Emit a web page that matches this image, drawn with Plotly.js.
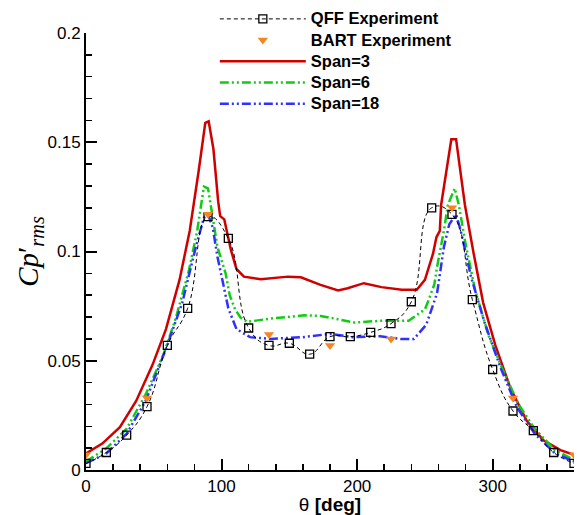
<!DOCTYPE html>
<html><head><meta charset="utf-8">
<script src="https://cdn.plot.ly/plotly-3.0.1.min.js"></script>
<style>html,body{margin:0;padding:0;background:#fff}</style>
</head><body>
<div id="chart" style="width:577px;height:515px"></div>
<script>
// QFF experiment (open squares, dashed)
const qffTheta = [0,15,30,45,60,75,90,105,120,135,150,165,180,195,210,225,240,255,270,285,300,315,330,345,360];
const qffCp = [0.003,0.008,0.016,0.029,0.057,0.074,0.116,0.106,0.065,0.057,0.058,0.053,0.061,0.061,0.063,0.067,0.077,0.120,0.117,0.078,0.046,0.027,0.018,0.008,0.003];
// BART experiment (triangles)
const bartTheta = [0,45,90,135,180,225,270,315,360];
const bartCp = [0.007,0.033,0.117,0.062,0.057,0.060,0.120,0.033,0.007];
// Span=3
const span3Theta = [0,12,25,37,49,59,69,76.5,83,88,90.5,94,97.5,99,102,104,107,111,116.5,129,149,158.5,173,186,193,205,218,233,244,250,256,258.5,261,262,266,269.5,273,276,279.5,286,293,302,313,325,337.5,350,360];
const span3Cp = [0.0076,0.0121,0.0196,0.0316,0.048,0.0645,0.087,0.1094,0.1364,0.1589,0.1596,0.1469,0.1229,0.1162,0.1147,0.1094,0.1005,0.092,0.0885,0.0873,0.0885,0.0882,0.0847,0.0822,0.0832,0.0855,0.0837,0.0825,0.0825,0.087,0.099,0.1065,0.1094,0.1214,0.1364,0.1514,0.1514,0.1364,0.1214,0.099,0.0765,0.057,0.0376,0.0226,0.0136,0.0091,0.0069];
// Span=6
const span6Theta = [0,15,30,44,57,66,76,82,87,90,93.5,97,103,106,110,114,119,136,161,173,186,198,218,238,250,252,257,259,264,267,272,275,280,287,297,307,319,331,346,360];
const span6Cp = [0.0039,0.0099,0.0189,0.0346,0.0526,0.069,0.0915,0.1094,0.1297,0.1289,0.1155,0.102,0.090,0.080,0.0735,0.0698,0.0678,0.0693,0.0708,0.0705,0.069,0.0675,0.0683,0.0683,0.0735,0.0765,0.085,0.093,0.1094,0.1214,0.1289,0.1214,0.1035,0.0825,0.0615,0.0465,0.0301,0.0189,0.0091,0.0046];
// Span=18
const span18Theta = [0,15,30,44,59,71,81,87,90,93.5,97,102,105,111,121,136,160,180,197,217,232,242,251,259,264,268,273,276.5,284,294,306,318,331,346,360];
const span18Cp = [0.0031,0.0076,0.0166,0.0316,0.0555,0.0765,0.102,0.1155,0.117,0.111,0.0975,0.082,0.074,0.0645,0.0608,0.060,0.0608,0.0623,0.0608,0.0612,0.060,0.060,0.0665,0.081,0.102,0.1125,0.117,0.1094,0.0885,0.0675,0.0465,0.0286,0.0166,0.0076,0.0039];
// Legend names
const seriesNames = ['QFF Experiment', 'BART Experiment', 'Span=3', 'Span=6', 'Span=18'];
// Tick labels
const xTickVals = [0,100,200,300];
const xTickText = ['0','100','200','300'];
const yTickVals = [0,0.05,0.1,0.15,0.2];
const yTickText = ['0','0.05','0.1','0.15','0.2'];

const nm = s => '<span style="font-size:16.5px">' + s + '</span>';

const traces = [
  {x: span3Theta, y: span3Cp, name: nm(seriesNames[2]), mode: 'lines', legendrank: 3,
   line: {color: '#d00000', width: 2.5}},
  {x: span6Theta, y: span6Cp, name: nm(seriesNames[3]), mode: 'lines', legendrank: 4,
   line: {color: '#11cc11', width: 2.5, dash: '9px,3px,2px,3px,2px,3px'}},
  {x: span18Theta, y: span18Cp, name: nm(seriesNames[4]), mode: 'lines', legendrank: 5,
   line: {color: '#3030ff', width: 2.5, dash: '9px,3px,2px,3px,2px,3px'}},
  {x: qffTheta, y: qffCp, name: nm(seriesNames[0]), mode: 'lines+markers', legendrank: 1,
   line: {color: '#000', width: 1, dash: '4px,3px', shape: 'spline', smoothing: 1.3},
   marker: {symbol: 'square-open', size: 8, color: '#000', line: {width: 1.3, color: '#000'}}},
  {x: bartTheta, y: bartCp, name: nm(seriesNames[1]), mode: 'markers', legendrank: 2,
   marker: {symbol: 'triangle-down', size: 9, color: '#f7851e'}}
];

const font = 'Liberation Sans, Arial, Helvetica, sans-serif';
const layout = {
  width: 577, height: 515,
  margin: {l: 86, r: 3, t: 25, b: 45},
  paper_bgcolor: '#fff', plot_bgcolor: '#fff',
  font: {family: font, size: 17, color: '#000'},
  showlegend: true,
  legend: {x: 0.264, y: 1.068, xanchor: 'left', yanchor: 'top', bgcolor: 'rgba(0,0,0,0)',
           font: {family: font, size: 14, color: '#000', weight: 'bold'}, itemwidth: 86, tracegroupgap: 0},
  xaxis: {range: [0, 360], showgrid: false, zeroline: false, showline: true, linecolor: '#000', linewidth: 2,
          mirror: false, ticks: 'inside', ticklen: 11, tickwidth: 2, tickcolor: '#000',
          tickmode: 'array', tickvals: xTickVals, ticktext: xTickText,
          minor: {dtick: 20, tick0: 0, ticks: 'inside', ticklen: 6, tickwidth: 1.5, tickcolor: '#000', showgrid: false},
          tickfont: {family: font, size: 17}, automargin: false,
          title: {text: 'θ <b>[deg]</b>', font: {family: font, size: 19}, standoff: 0}},
  yaxis: {range: [0, 0.2], showgrid: false, zeroline: false, showline: true, linecolor: '#000', linewidth: 2,
          mirror: false, ticks: 'inside', ticklen: 11, tickwidth: 2, tickcolor: '#000',
          tickmode: 'array', tickvals: yTickVals, ticktext: yTickText,
          minor: {dtick: 0.01, tick0: 0, ticks: 'inside', ticklen: 6, tickwidth: 1.5, tickcolor: '#000', showgrid: false},
          tickfont: {family: font, size: 17}, automargin: false,
          title: {text: '<i>Cp</i>′<sub><i>rms</i></sub>', font: {family: 'Liberation Serif, DejaVu Serif, serif', size: 29}, standoff: 0}}
};
Plotly.newPlot('chart', traces, layout, {displayModeBar: false, staticPlot: true});
</script>
</body></html>
